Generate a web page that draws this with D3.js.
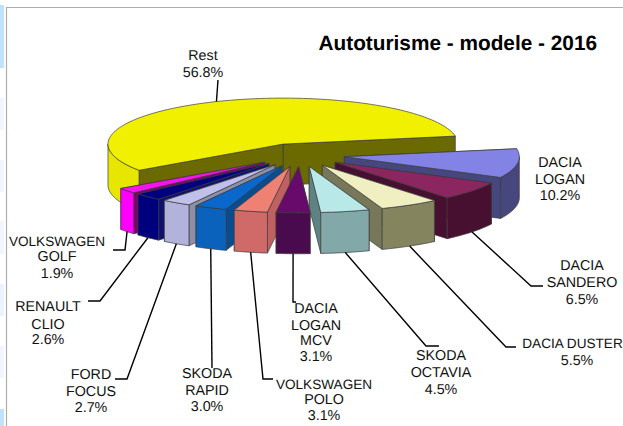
<!DOCTYPE html>
<html>
<head>
<meta charset="utf-8">
<script src="https://cdn.jsdelivr.net/npm/d3@7"></script>
<style>
html,body{margin:0;padding:0;background:#fff;overflow:hidden}
svg{display:block}
text{font-family:"Liberation Sans",Arial,sans-serif;fill:#111;text-rendering:geometricPrecision}
</style>
</head>
<body>
<svg id="chart" width="623" height="426"></svg>
<script>
// --- data, clockwise from the right-hand edge of the big slice
const categories = ["DACIA LOGAN","DACIA SANDERO","DACIA DUSTER","SKODA OCTAVIA","DACIA LOGAN MCV","VOLKSWAGEN POLO","SKODA RAPID","FORD FOCUS","RENAULT CLIO","VOLKSWAGEN GOLF","Rest"];
const shares = [10.2,6.5,5.5,4.5,3.1,3.1,3.0,2.7,2.6,1.9,56.8];
const labelLines = [["DACIA","LOGAN"],["DACIA","SANDERO"],["DACIA DUSTER"],["SKODA","OCTAVIA"],["DACIA","LOGAN","MCV"],["VOLKSWAGEN","POLO"],["SKODA","RAPID"],["FORD","FOCUS"],["RENAULT","CLIO"],["VOLKSWAGEN","GOLF"],["Rest"]];
const titleText = "Autoturisme - modele - 2016";

// --- styling and layout, separate from the data
const topColors  = ["#8383e6","#8c2660","#f0efc2","#b9e8e8","#680a6c","#ee8074","#0a68cc","#c0c0ea","#00007e","#f812f0","#f0f000"];
const frontColors= ["#47477f","#471030","#84845f","#82a8aa","#4a0a4e","#cf6a68","#0a62bd","#b2b2da","#00007e","#ff00ff","#e6e600"];
const sideColors = ["#47477f","#471030","#77775a","#5f8282","#4a0a4e","#c06060","#0a4c92","#8e8ea8","#10106e","#800070","#6a6a00"];
const labelCenters = [[560,[167,184,200]],[582,[270,287,304]],[[572.5,577],[348,365]],[441,[360,377,394]],[316,[313,330,345,361]],[324,[389,404,420]],[207,[378,395,411]],[91,[379,396,412]],[48,[311,329,344]],[57,[246,261,278]],[203,[60,77]]];
const narrowLines = ["VOLKSWAGEN","DACIA DUSTER"];
const leaderRoutes = [null,[[531,286],[543,286]],[[506,347],[516,347]],[[426,346],[439,346]],[[293,302],[296,302]],[[263,379],[273,379]],[[212,368]],[[127,379],[115,379]],[[100,301],[88,301]],[[125,250],[113,250]],[[218,80]]];
const stripBands = [[5,68,"#bfe3ff"],[98,130,"#f0f5ff"],[160,192,"#f0f5ff"],[221,254,"#f0f5ff"],[284,316,"#eaf3ff"],[346,378,"#f0f5ff"],[409,426,"#bfe3ff"]];

const svg = d3.select("#chart");
const deg = Math.PI/180;
const startAngle = 80*deg;

// page furniture behind the chart
stripBands.forEach(([y0,y1,c])=>{
  svg.append("rect").attr("x",0).attr("y",y0).attr("width",4).attr("height",y1-y0).attr("fill",c);
});
svg.append("path").attr("d","M6.5,426V7.5H623").attr("fill","none").attr("stroke","#adadad").attr("stroke-width",1.2);

// pie layout supplies the angles
const pie = d3.pie().sort(null).value(d=>d).startAngle(startAngle).endAngle(startAngle+2*Math.PI);
const arcs = pie(shares);

// elliptical projection through linear scales
const rx = 175, ry = 46, depth = 41, explode = 0.256;
const sx = d3.scaleLinear().domain([-1,1]).range([300-rx,300+rx]);
const sy = d3.scaleLinear().domain([-1,1]).range([155-ry,155+ry]);
const proj = (a,r,off)=>[
  sx(Math.sin(a)*r+Math.sin(off)*explode),
  sy(-Math.cos(a)*r-Math.cos(off)*explode)
];
const line = d3.line();
const samples = (a0,a1)=>{const n=Math.max(2,Math.ceil((a1-a0)/(2*deg)));return d3.range(n+1).map(i=>a0+(a1-a0)*i/n);};

const pieces = arcs.map((d,i)=>({d,i,mid:(d.startAngle+d.endAngle)/2}));
// back to front: slices farther from the viewer go first
pieces.sort((a,b)=>(-Math.cos(a.mid))-(-Math.cos(b.mid)));
const outline="#3c3c3c";
pieces.forEach(({d,i,mid})=>{
  const g=svg.append("g");
  const apex=proj(0,0,mid);
  const apexB=[apex[0],apex[1]+depth];
  const wall=(a,fill)=>{
    const p=proj(a,1,mid);
    g.append("path").attr("d",line([apex,p,[p[0],p[1]+depth],apexB])+"Z")
      .attr("fill",fill).attr("stroke",outline).attr("stroke-width",.7).attr("stroke-linejoin","round");
  };
  const walls=[d.startAngle,d.endAngle].sort((a,b)=>proj(a,1,mid)[1]-proj(b,1,mid)[1]);
  walls.forEach(a=>wall(a,sideColors[i]));
  // outer rim: only the part that faces the viewer
  const vis0=Math.max(d.startAngle,90*deg), vis1=Math.min(d.endAngle,270*deg);
  const ranges=[];
  if(vis1>vis0) ranges.push([vis0,vis1]);
  ranges.forEach(([a0,a1])=>{
    const ts=samples(a0,a1).map(a=>proj(a,1,mid));
    const pts=ts.concat(ts.slice().reverse().map(p=>[p[0],p[1]+depth]));
    g.append("path").attr("d",line(pts)+"Z").attr("fill",frontColors[i])
      .attr("stroke",outline).attr("stroke-width",.7).attr("stroke-linejoin","round");
  });
  const top=[apex].concat(samples(d.startAngle,d.endAngle).map(a=>proj(a,1,mid)));
  g.append("path").attr("d",line(top)+"Z").attr("fill",topColors[i])
    .attr("stroke",outline).attr("stroke-width",.7).attr("stroke-linejoin","round");
});

// leader lines start at the slice rim (bottom of the rim for the front slices)
arcs.forEach((d,i)=>{
  const route=leaderRoutes[i];
  if(!route) return;
  const mid=(d.startAngle+d.endAngle)/2;
  const p=proj(mid,1,mid);
  const front=Math.cos(mid)<0;
  const start=[p[0],p[1]+(front?depth:0)];
  svg.append("path").attr("d",line([start].concat(route))).attr("fill","none")
    .attr("stroke","#000").attr("stroke-width",1.4);
});

// labels
arcs.forEach((d,i)=>{
  const [cx,bases]=labelCenters[i];
  const lines=labelLines[i].concat(d3.format(".1f")(shares[i])+"%");
  lines.forEach((t,k)=>{
    svg.append("text").attr("x",Array.isArray(cx)?cx[k]:cx).attr("y",bases[k]).attr("text-anchor","middle")
      .attr("font-size",narrowLines.includes(t)?13.6:14.3).text(t);
  });
});

svg.append("text").attr("x",318.5).attr("y",50).attr("font-size",20.8).attr("font-weight","bold")
  .style("fill","#000").text(titleText);
</script>
</body>
</html>
